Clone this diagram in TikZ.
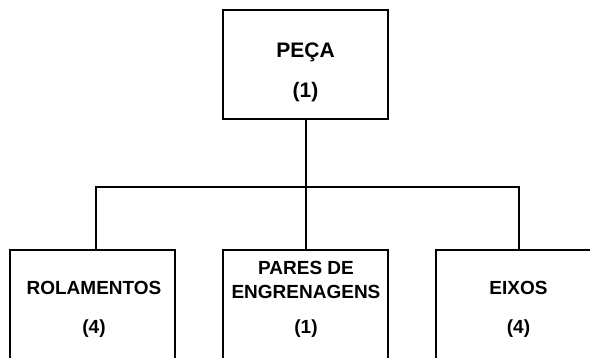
\documentclass[tikz,border=0pt]{standalone}
\usepackage{fontspec}
\setmainfont{Liberation Sans}

\begin{document}
\begin{tikzpicture}[x=1pt,y=-1pt,
		caixa/.style={draw, line width=2pt, minimum width=165pt, inner sep=0pt},
		rotulo/.style={align=center, inner sep=0pt, font=\bfseries\fontsize{19}{24}\selectfont}]
		\useasboundingbox (0,0) rectangle (590,358);
		\clip (0,0) rectangle (590,358);

		% caixas
		\node[caixa, minimum height=109pt] (peca) at (305.5,64.5) {};
		\node[caixa, minimum height=130pt] (rolamentos) at (92.5,315) {};
		\node[caixa, minimum height=130pt] (pares) at (305.5,315) {};
		\node[caixa, minimum height=130pt] (eixos) at (518.5,315) {};

		% textos
		\node[rotulo, font=\bfseries\fontsize{21}{26}\selectfont] (tpeca) at (305.5,72) {PEÇA\\[14pt](1)};
		\node[rotulo] (trolamentos) at (94,309.5) {ROLAMENTOS\\[15pt](4)};
		\node[rotulo] (tpares) at (306,299.5) {PARES DE\\ENGRENAGENS\\[11pt](1)};
		\node[rotulo] (teixos) at (518.5,309.5) {EIXOS\\[15pt](4)};

		% ligacoes
		\draw[line width=2pt] (peca.south) -- (pares.north);
		\draw[line width=2pt] ([xshift=3.5pt]rolamentos.north) -- ++(0,-62) -| (eixos.north);
	\end{tikzpicture}
\end{document}
